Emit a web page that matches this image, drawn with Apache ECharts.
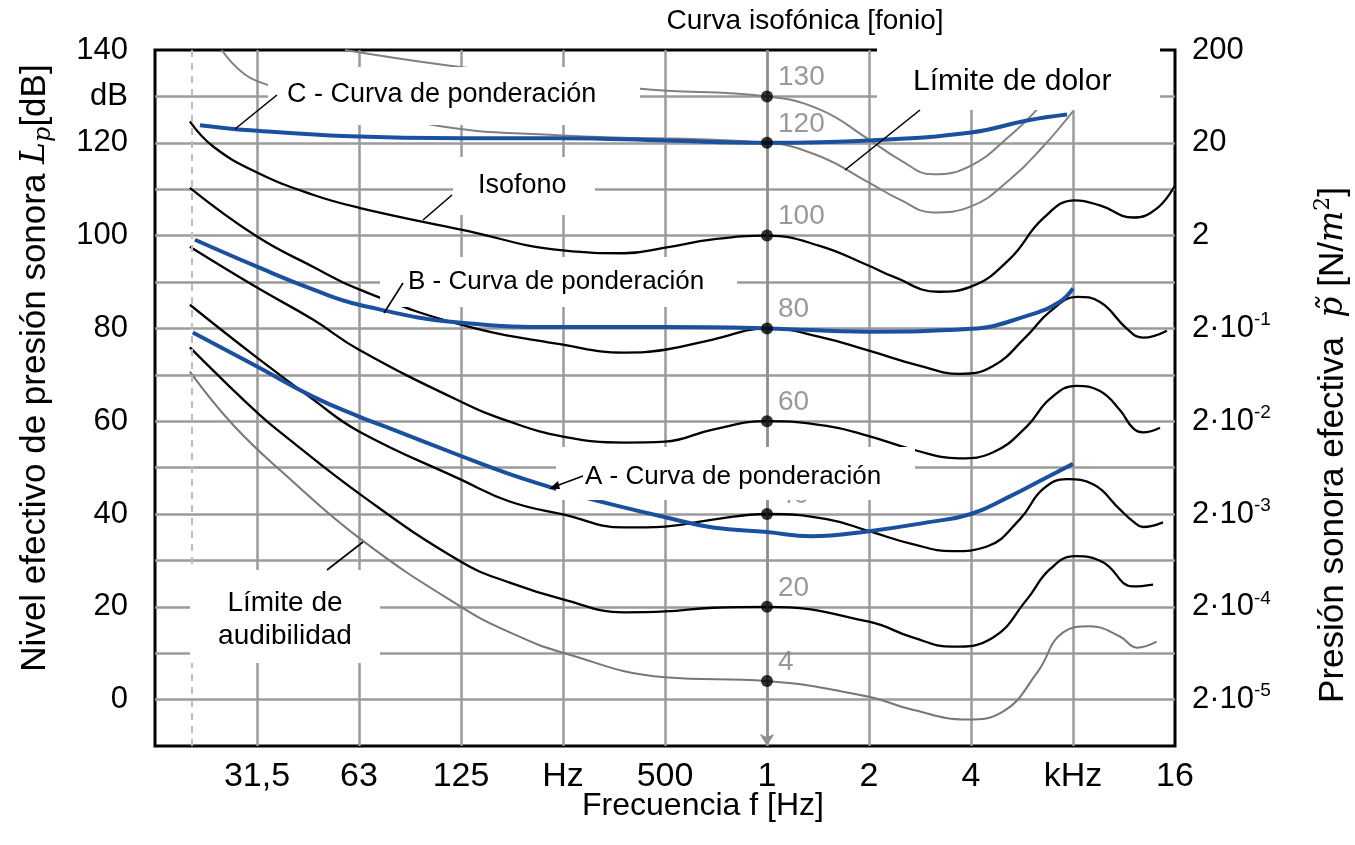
<!DOCTYPE html>
<html><head><meta charset="utf-8">
<script src="https://cdn.jsdelivr.net/npm/echarts@6/dist/echarts.min.js"></script>
<style>html,body{margin:0;padding:0;background:#fff}#c{width:1355px;height:845px}</style>
</head><body><div id="c"></div>
<script>
// ---------- tick labels ----------
const octaveTickLabels = ['', '31,5', '63', '125', 'Hz', '500', '1', '2', '4', 'kHz', '16'];
const leftTickValues = [0, 20, 40, 60, 80, 100, 120, 130, 140];
const leftTickTexts  = ['0', '20', '40', '60', '80', '100', '120', 'dB', '140'];
const rightTickValues   = [0, 20, 40, 60, 80, 100, 120, 140];
const rightTickMantissa = ['2·10', '2·10', '2·10', '2·10', '2·10', '2', '20', '200'];
const rightTickExponent = ['-5', '-4', '-3', '-2', '-1', '', '', ''];

// ---------- curves: [frequency Hz, level dB] ----------
const phon4 = [[19.8,70.7],[26.5,59.3],[37.3,48.9],[64.2,34.2],[125,20],[174,14.5],[250,10.1],[500,4.8],[1000,4],[2000,0.6],[2690,-2.2],[3890,-4.3],[4970,-2.6],[6270,5.8],[7480,14.5],[8980,15.8],[11000,13.6],[12360,11.2],[14120,12.5]];
const phon20 = [[19.8,75.9],[26.5,66.8],[31.25,61.9],[35.8,58.2],[64.2,43.8],[125,29.7],[174,25.2],[250,21.6],[379,18.8],[500,19],[692,19.8],[1000,20],[2000,16.8],[2690,13.4],[3530,11.4],[4650,13.4],[5850,21.6],[6840,28.1],[8110,30.9],[9810,29.6],[12030,24.4],[13780,24.8]];
const phon40 = [[19.8,85.1],[31.25,73.7],[45.7,64.7],[62.5,57.8],[125,47.4],[174,42.7],[250,39.9],[379,37.1],[500,37.3],[692,38.8],[1000,40],[1500,38.9],[2000,36.3],[2690,33.5],[3530,32],[4460,33],[5580,38.9],[6530,45.4],[7680,47.5],[9170,46.4],[11000,41],[12030,38.4],[12870,37.2],[14740,38.2]];
const phon60 = [[19.8,97.6],[31.25,88.8],[45.7,81.9],[62.5,75.4],[125,64.2],[174,59.9],[250,56.7],[379,55.4],[500,55.6],[692,58.2],[1000,60],[1500,59],[2000,56.8],[2690,53.9],[3700,52],[4650,53.3],[5850,58.9],[6840,64.8],[8170,67.6],[9610,66.5],[11000,62.4],[12030,58.5],[12870,57.6],[14450,58.6]];
const phon80 = [[19.8,110.3],[31.25,99.8],[45.7,93.3],[62.5,88.4],[125,80.8],[250,76.5],[379,74.8],[500,75.4],[692,77.6],[1000,80],[1430,78.2],[2000,75.2],[2830,71.9],[3700,70.2],[4650,71.9],[5850,78.4],[6840,83.6],[8230,86.8],[9610,85.7],[11550,79.9],[12870,78],[15140,79.5]];
const phon100 = [[19.8,124.6],[23.2,119.2],[31.25,113.6],[45.7,108.8],[62.5,106],[125,101.3],[250,96.8],[379,96.2],[500,97.4],[692,99.2],[1000,100],[1430,97.8],[2000,93.5],[2350,91.2],[3200,87.9],[4000,89],[5210,95],[6530,103.7],[8110,107.6],[9610,106.5],[12030,103.9],[14120,105.8],[16000,110.8]];
const phon120 = [[24.6,140],[31.25,133.3],[96.5,124.2],[250,121.6],[1000,120],[1430,117.1],[2000,111.4],[2460,107.8],[3090,105],[4000,106.3],[5210,112.1],[6530,119.2],[8000,126.8]];
const phon130 = [[56.8,140],[116,136.6],[416,131.7],[1000,130],[1430,127.2],[2000,120.7],[2460,116.4],[3090,113.2],[4000,115.1],[5210,121.5],[6270,127.2]];
const weightA = [[20.2,79.1],[31.25,71.8],[45.7,65.3],[62.5,61],[78.8,58.2],[125,52.5],[174,48.6],[229,45.8],[281,43.8],[500,39.3],[692,37.1],[1000,36.1],[1350,35.2],[2000,36.3],[2970,38.2],[4000,40],[5210,43.8],[6530,47.5],[8000,50.8]];
const weightB = [[20.5,99.1],[31.25,93.3],[45.7,88.4],[62.5,85.1],[125,81.2],[250,80.3],[500,80.3],[1000,80],[2000,79.3],[4000,79.9],[5850,82.7],[7300,85.7],[8000,88.6]];
const weightC = [[21.2,123.8],[29.8,122.7],[58.8,121.4],[127,121],[250,121],[500,120.5],[1000,120],[2000,120.5],[4000,122.2],[5850,124.8],[7680,126.1]];

// reference dots at 1 kHz
const dotFreq = 1000;
const dotLevels = [4, 20, 40, 60, 80, 100, 120, 130];
const dotLabels = ['4', '20', '40', '60', '80', '100', '120', '130'];
const markerFreqs = [20, 1000];

// ---------- chart ----------
const SANS = '"Liberation Sans", Arial, sans-serif';
const SERIF = '"DejaVu Serif", "Liberation Serif", serif';
const chart = echarts.init(document.getElementById('c'), null, {renderer: 'canvas'});

function curve(name, data, color, width, z) {
  return {
    name, type: 'line', xAxisIndex: 1, yAxisIndex: 0, data,
    smooth: 0.45, showSymbol: false, symbol: 'none', silent: true, z: z,
    lineStyle: {color, width}
  };
}

const series = [
  Object.assign(curve('4', phon4, '#777777', 2, 3), {
    markLine: {silent: true, symbol: 'none', animation: false,
      label: {show: false},
      lineStyle: {type: [7, 6], color: '#bdbdbd', width: 2},
      data: [{xAxis: markerFreqs[0]}]}
  }),
  curve('120', phon120, '#808080', 2, 3),
  curve('130', phon130, '#808080', 2, 3),
  curve('20', phon20, '#000', 2.3, 4),
  curve('40', phon40, '#000', 2.3, 4),
  curve('60', phon60, '#000', 2.3, 4),
  curve('80', phon80, '#000', 2.3, 4),
  curve('100', phon100, '#000', 2.3, 4),
  curve('A', weightA, '#1a519f', 4, 5),
  curve('B', weightB, '#1a519f', 4, 5),
  curve('C', weightC, '#1a519f', 4, 5),
  {
    name: 'dots', type: 'scatter', xAxisIndex: 1, yAxisIndex: 0, z: 6, silent: true,
    data: dotLevels.map(v => [dotFreq, v]),
    symbolSize: 12, itemStyle: {color: '#000'},
    label: {show: true, position: 'right', distance: 5, offset: [0, -19],
      formatter: p => dotLabels[p.dataIndex],
      color: '#7f7f7f', fontSize: 28, fontFamily: SANS},
    markLine: {silent: true, animation: false, symbol: ['arrow', 'none'], symbolSize: [11, 12],
      label: {show: false},
      lineStyle: {type: 'solid', color: '#8e8e8e', width: 2.5},
      data: [{xAxis: markerFreqs[1]}]}
  }
];

// annotation boxes (white), texts and leader lines
function box(x, y, w, h) { return {type: 'rect', z: 50, shape: {x, y, width: w, height: h}, style: {fill: '#fff'}, silent: true}; }
function txt(x, y, text, size, align) {
  return {type: 'text', z: 51, x, y, silent: true,
    style: {text, fontSize: size, fontFamily: SANS, fill: '#000', align: align || 'left', verticalAlign: 'middle'}};
}
function lead(x1, y1, x2, y2) { return {type: 'line', z: 52, silent: true, shape: {x1, y1, x2, y2}, style: {stroke: '#000', lineWidth: 1.6}}; }

const graphics = [
  box(268, 67, 372, 58), txt(287, 95, 'C - Curva de ponderación', 27), lead(277, 95, 235, 129),
  box(453, 157, 142, 58), txt(478, 186, 'Isofono', 27), lead(452, 195, 423, 220),
  box(380, 257, 357, 50), txt(408, 282, 'B - Curva de ponderación', 26), lead(403, 283, 384, 313),
  box(556, 447, 359, 53), txt(585, 477, 'A - Curva de ponderación', 26), lead(583, 476, 556, 486),
  {type: 'polygon', z: 52, silent: true, shape: {points: [[549, 489], [558, 481], [560, 489]]}, style: {fill: '#000'}},
  box(877, 46, 283, 64), txt(913, 82, 'Límite de dolor', 30), lead(920, 110, 845, 170),
  box(190, 570, 190, 93), txt(285, 603, 'Límite de', 28, 'center'), txt(285, 636, 'audibilidad', 28, 'center'), lead(327, 570, 363, 542),
  // titles
  txt(805, 21, 'Curva isofónica [fonio]', 28, 'center'),
  txt(703, 806, 'Frecuencia f [Hz]', 32, 'center'),
  {type: 'text', z: 51, x: 35, y: 368, rotation: Math.PI / 2, silent: true,
    style: {text: '{n|Nivel efectivo de presión sonora }{i|L}{s|p}{n|[dB]}',
      align: 'center', verticalAlign: 'middle', fill: '#000',
      rich: {
        n: {fontSize: 35, fontFamily: SANS, lineHeight: 42, fill: '#000'},
        i: {fontSize: 33, fontFamily: SERIF, fontStyle: 'italic', lineHeight: 42, fill: '#000'},
        s: {fontSize: 24, fontFamily: SERIF, fontStyle: 'italic', lineHeight: 26, verticalAlign: 'bottom', fill: '#000'}
      }}},
  {type: 'text', z: 51, x: 1333, y: 445, rotation: Math.PI / 2, silent: true,
    style: {text: '{n|Presión sonora efectiva  }{i|p\u0303}{n| [N/}{i|m}{sup|2}{n|]}',
      align: 'center', verticalAlign: 'middle', fill: '#000',
      rich: {
        n: {fontSize: 35, fontFamily: SANS, lineHeight: 42, fill: '#000'},
        i: {fontSize: 33, fontFamily: SERIF, fontStyle: 'italic', lineHeight: 42, fill: '#000'},
        sup: {fontSize: 22, fontFamily: SERIF, lineHeight: 22, verticalAlign: 'top', fill: '#000'}
      }}}
];

const option = {
  animation: false,
  backgroundColor: '#fff',
  grid: {left: 155, right: 180, top: 50, bottom: 99, show: true, borderColor: '#000', borderWidth: 3,
    backgroundColor: 'rgba(0,0,0,0)', containLabel: false, outerBoundsMode: 'none'},
  xAxis: [
    {type: 'value', min: 0, max: 10, interval: 1, position: 'bottom',
      axisLine: {show: false}, axisTick: {show: false},
      axisLabel: {show: true, showMinLabel: true, showMaxLabel: true, margin: 14, fontSize: 34, fontFamily: SANS, color: '#000',
        formatter: v => octaveTickLabels[Math.round(v)] || ''},
      splitLine: {show: true, showMinLine: false, showMaxLine: false, lineStyle: {color: '#9b9b9b', width: 2.5}}},
    {type: 'log', logBase: 2, min: 15.625, max: 16000, show: false,
      axisLabel: {show: false}, splitLine: {show: false}, axisTick: {show: false}, axisLine: {show: false}}
  ],
  yAxis: [
    {type: 'value', min: -10, max: 140, interval: 10, position: 'left',
      axisLine: {show: false}, axisTick: {show: false},
      axisLabel: {show: true, showMinLabel: true, showMaxLabel: true, margin: 27, fontSize: 31, fontFamily: SANS, color: '#000',
        formatter: v => { const i = leftTickValues.indexOf(Math.round(v)); return i < 0 ? '' : leftTickTexts[i]; }},
      splitLine: {show: true, showMinLine: false, showMaxLine: false, lineStyle: {color: '#9b9b9b', width: 2.5}}},
    {type: 'value', min: -10, max: 140, interval: 10, position: 'right',
      axisLine: {show: false}, axisTick: {show: false}, splitLine: {show: false},
      axisLabel: {show: true, showMinLabel: true, showMaxLabel: true, margin: 17, color: '#000', fontSize: 31, fontFamily: SANS,
        formatter: v => {
          const i = rightTickValues.indexOf(Math.round(v));
          if (i < 0) return '';
          const e = rightTickExponent[i];
          return e ? '{b|' + rightTickMantissa[i] + '}{e|' + e + '}' : '{b|' + rightTickMantissa[i] + '}';
        },
        rich: {
          b: {fontSize: 31, fontFamily: SANS, color: '#000', lineHeight: 36},
          e: {fontSize: 19, fontFamily: SANS, color: '#000', lineHeight: 20, verticalAlign: 'top'}
        }}}
  ],
  series,
  graphic: {elements: graphics}
};
chart.setOption(option);
</script>
</body></html>
